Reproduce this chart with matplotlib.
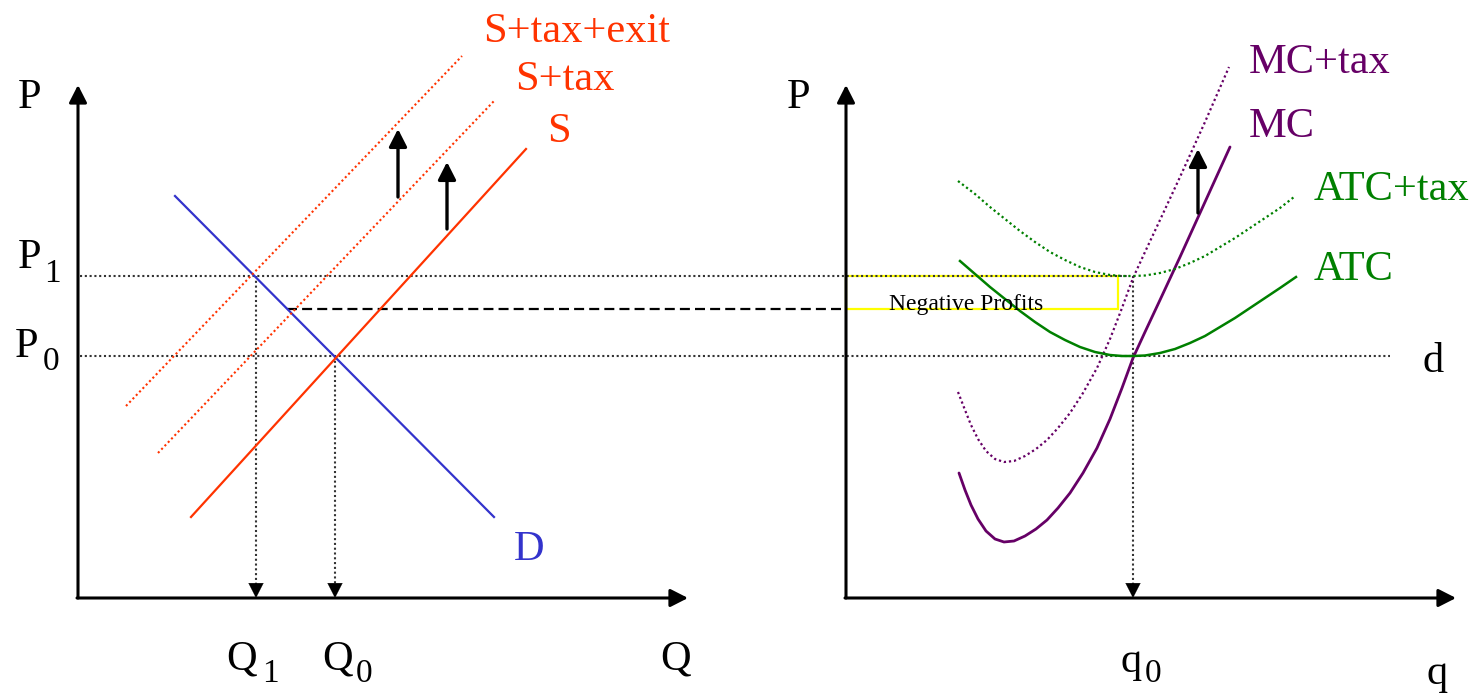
import matplotlib
matplotlib.use("Agg")
import matplotlib.pyplot as plt
from matplotlib.patches import Rectangle

plt.rcParams['font.family'] = ['Liberation Serif', 'DejaVu Serif']

# ---------------- data (pixel space) ----------------
# Left panel: market
demand_x = [175, 494]
demand_y = [196, 517]
supply_x = [191, 526]
supply_y = [517, 149]
supply_tax_x = [158, 494]
supply_tax_y = [453, 101]
supply_exit_x = [126, 462]
supply_exit_y = [406, 56]
p1_level = 276
p0_level = 356
p_mid_level = 309
q1_pos = 256
q0_pos = 335

# Right panel: firm
mc_x = [959, 965, 971, 978, 986, 995, 1004, 1014, 1025, 1036, 1047, 1058, 1070,
        1083, 1097, 1110, 1122, 1133, 1145, 1160, 1180, 1205, 1230]
mc_y = [473, 490, 505, 519, 531, 539, 542, 541, 536, 529, 520, 508, 493,
        473, 448, 419, 388, 358, 332, 300, 257, 202, 147]
mctax_x = [958, 965, 971, 978, 986, 995, 1004, 1014, 1025, 1036, 1047, 1058, 1070,
           1083, 1097, 1110, 1122, 1133, 1145, 1160, 1180, 1205, 1229]
mctax_y = [392, 410, 425, 439, 451, 459, 462, 461, 456, 449, 440, 428, 413,
           393, 368, 339, 308, 278, 252, 220, 177, 122, 67]
atc_x = [960, 975, 990, 1005, 1020, 1035, 1050, 1065, 1080, 1095, 1110, 1122, 1133,
         1145, 1160, 1175, 1190, 1205, 1220, 1235, 1250, 1265, 1280, 1296]
atc_y = [261, 274, 287, 299, 311, 322, 332, 340, 347, 352, 355, 356, 356,
         355.5, 353, 349, 343, 336, 327, 318, 308, 298, 288, 277]
atctax_x = [958, 975, 990, 1005, 1020, 1035, 1050, 1065, 1080, 1095, 1110, 1122, 1133,
            1145, 1160, 1175, 1190, 1205, 1220, 1235, 1250, 1265, 1280, 1294]
atctax_y = [181, 194, 207, 219, 231, 242, 252, 260, 267, 272, 275, 276, 276,
            275.5, 273, 269, 263, 256, 247, 238, 228, 218, 208, 197]
q_firm_pos = 1133
profit_box = (846, 276, 272, 33)  # x, y, width, height

# ---------------- colours ----------------
RED = '#ff3300'
BLUE = '#3333cc'
PURPLE = '#660066'
GREEN = '#008000'
DOT = '#333333'

fig = plt.figure(figsize=(14.82, 6.95), dpi=100)
ax = fig.add_axes([0, 0, 1, 1])
ax.set_xlim(0, 1482)
ax.set_ylim(695, 0)
ax.axis('off')

dotted = (0, (1.0, 1.3))


def arrow(x0, y0, x1, y1, lw=2.2, hl=0.53, hw=0.27, ms=20):
    ax.annotate('', xy=(x1, y1), xytext=(x0, y0),
                arrowprops=dict(arrowstyle=f'-|>,head_length={hl},head_width={hw}',
                                lw=lw, color='black', shrinkA=0, shrinkB=0,
                                mutation_scale=ms))


# axes of both panels
for x0, xend in [(78, 688), (846, 1456)]:
    arrow(x0, 598, x0, 85)
    arrow(x0 - 1, 598, xend, 598)

# horizontal reference lines
ax.plot([80, 1130], [p1_level, p1_level], ls=dotted, lw=1.5, color=DOT)
ax.plot([80, 1390], [p0_level, p0_level], ls=dotted, lw=1.5, color=DOT)
ax.plot([287, 846], [p_mid_level, p_mid_level], ls=(0, (4.5, 2.3)), lw=1.6, color='black')

# vertical drop lines with arrows
for xq, ytop in [(q1_pos, p1_level), (q0_pos, p0_level), (q_firm_pos, p1_level)]:
    ax.plot([xq, xq], [ytop, 586], ls=dotted, lw=1.5, color=DOT)
    arrow(xq, 584, xq, 598, lw=0.1)

# market curves
ax.plot(demand_x, demand_y, color=BLUE, lw=1.6)
ax.plot(supply_x, supply_y, color=RED, lw=1.6)
ax.plot(supply_tax_x, supply_tax_y, color=RED, lw=1.5, ls=dotted)
ax.plot(supply_exit_x, supply_exit_y, color=RED, lw=1.5, ls=dotted)

# firm curves
ax.plot(mc_x, mc_y, color=PURPLE, lw=2.0, solid_capstyle='round', solid_joinstyle='round')
ax.plot(mctax_x, mctax_y, color=PURPLE, lw=1.6, ls=dotted)
ax.plot(atc_x, atc_y, color=GREEN, lw=1.8, solid_joinstyle='round')
ax.plot(atctax_x, atctax_y, color=GREEN, lw=1.6, ls=dotted)

# shift arrows
arrow(398, 197, 398, 129, lw=2.4)
arrow(447, 229, 447, 162, lw=2.4)
arrow(1198, 213, 1198, 149, lw=2.4)

# negative profits box
bx, by, bw, bh = profit_box
ax.add_patch(Rectangle((bx, by), bw, bh, fill=False, edgecolor='#ffff00', lw=1.6))
ax.text(966, 310, 'Negative Profits', fontsize=17, ha='center', va='baseline', color='black')

BIG = 30.5
SUB = 24
# axis labels
ax.text(18, 108, 'P', fontsize=BIG, va='baseline')
ax.text(787, 108, 'P', fontsize=BIG, va='baseline')
ax.text(660, 669, 'Q', fontsize=BIG, va='baseline')
ax.text(1426, 684, 'q', fontsize=BIG, va='baseline')
ax.text(1422, 372, 'd', fontsize=BIG, va='baseline')


# subscripted labels
def sublabel(x, y, main, sub, dx, dy):
    ax.text(x, y, main, fontsize=BIG, va='baseline', ha='left')
    ax.text(x + dx, y + dy, sub, fontsize=SUB, va='baseline', ha='left')


sublabel(18, 268, 'P', '1', 26, 14)
sublabel(15, 357, 'P', '0', 28, 13)
sublabel(226, 669, 'Q', '1', 36, 13)
sublabel(322, 669, 'Q', '0', 34, 13)
sublabel(1121, 672, 'q', '0', 24, 10)

# curve labels
ax.text(483, 42, 'S+tax+exit', fontsize=BIG, color=RED, va='baseline')
ax.text(515, 90, 'S+tax', fontsize=BIG, color=RED, va='baseline')
ax.text(547, 142, 'S', fontsize=BIG, color=RED, va='baseline')
ax.text(514, 560, 'D', fontsize=BIG, color=BLUE, va='baseline')
ax.text(1249, 73, 'MC+tax', fontsize=BIG, color=PURPLE, va='baseline')
ax.text(1249, 137, 'MC', fontsize=BIG, color=PURPLE, va='baseline')
ax.text(1314, 200, 'ATC+tax', fontsize=BIG, color=GREEN, va='baseline')
ax.text(1314, 280, 'ATC', fontsize=BIG, color=GREEN, va='baseline')

fig.savefig('out.png', dpi=100)
